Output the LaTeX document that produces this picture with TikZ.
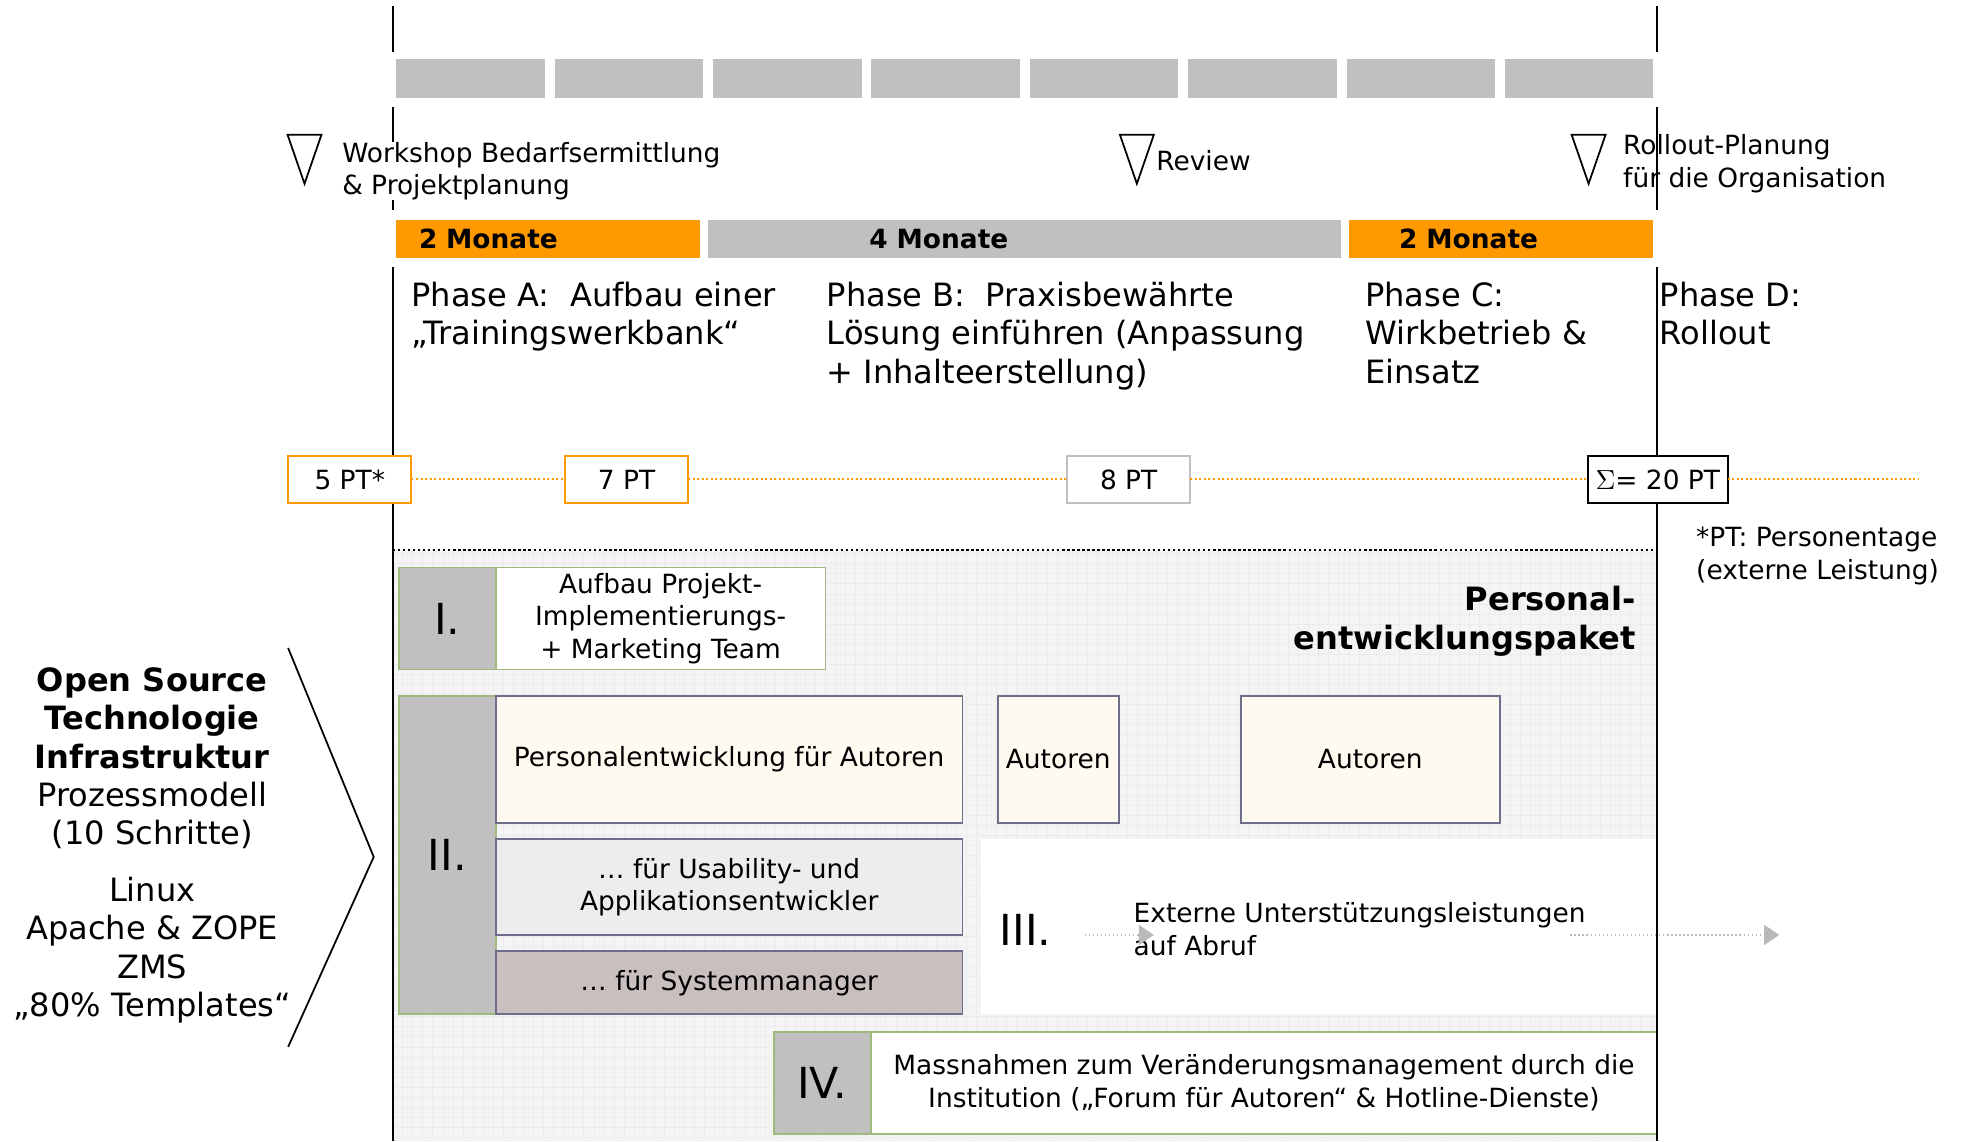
\documentclass[tikz,border=0pt]{standalone}
\usepackage{fontspec}
\setmainfont{DejaVu Sans}
\usetikzlibrary{arrows.meta,positioning}
\definecolor{barorange}{RGB}{255,153,0}
\definecolor{bargray}{RGB}{192,192,192}
\definecolor{panelgray}{RGB}{244,244,244}
\definecolor{gridgray}{RGB}{236,236,236}
\definecolor{cream}{RGB}{254,250,240}
\definecolor{lightgr}{RGB}{237,237,237}
\definecolor{rosegray}{RGB}{201,191,191}
\definecolor{slate}{RGB}{110,110,140}
\definecolor{sage}{RGB}{160,185,125}
\begin{document}
\begin{tikzpicture}
  [x=0.5pt,y=-0.5pt,
   every node/.style={inner sep=0pt,outer sep=0pt,font=\fontsize{10.5pt}{13pt}\selectfont},
   tick/.style={fill=bargray,minimum width=59pt,minimum height=15.5pt},
   monthbar/.style={minimum height=15pt,align=left,font=\fontsize{10.5pt}{13pt}\selectfont\bfseries},
   milestone/.style={draw,line width=0.7pt},
   ptbox/.style={draw,fill=white,line width=0.8pt,minimum width=49pt,minimum height=19pt},
   ptline/.style={barorange,densely dotted,line width=0.8pt},
   phase/.style={anchor=north west,align=left,font=\fontsize{12.75pt}{15.25pt}\selectfont},
   numcell/.style={draw=sage,fill=bargray,line width=0.7pt,minimum width=38.5pt,font=\fontsize{17pt}{20pt}\selectfont},
   textcell/.style={draw=sage,fill=white,line width=0.7pt,align=center,minimum height=40.5pt},
   pecell/.style={draw=slate,line width=0.7pt,minimum width=185.5pt,align=center},
   support/.style={gray!55,densely dotted,line width=0.6pt,-{Triangle[length=6pt,width=8pt]}}]
  \useasboundingbox (0,0) rectangle (1568,907);

  \fill[panelgray] (312,437) rectangle (1317,907);
  \draw[gridgray,line width=0.3pt,step=4pt] (312,437) grid (1317,907);
  \draw[densely dotted,line width=1pt] (312,437) -- (1317,437);

  \foreach \i in {0,...,7}
    \node[tick] (bar\i) at ({374+125.86*\i},62.5) {};

  \node[monthbar,fill=barorange,inner xsep=9pt,text width=102.5pt] (m1) at (435.5,190) {2 Monate};
  \node[monthbar,fill=bargray,inner xsep=64pt,text width=123.5pt] (m2) at (814.5,190) {4 Monate};
  \node[monthbar,fill=barorange,inner xsep=20pt,text width=81pt] (m3) at (1193,190) {2 Monate};

  \node[fill=white,minimum width=268.5pt,minimum height=69.5pt] (z3) at (1048.5,736.5) {};

  \node[numcell,minimum height=40.5pt] (n1) at (355.5,491.5) {I.};
  \node[textcell,anchor=west,minimum width=131pt] (t1) at (n1.east) {Aufbau Projekt-\\Implementierungs-\\+ Marketing Team};

  \node[numcell,minimum height=126.5pt] (n2) at (355.5,679.5) {II.};
  \node[pecell,fill=cream,minimum height=50.5pt,anchor=north west] (pa) at (n2.north east) {Personalentwicklung für Autoren};
  \node[pecell,fill=lightgr,minimum height=38pt,below=6.5pt of pa] (pb) {\dots\ für Usability- und\\Applikationsentwickler};
  \node[pecell,fill=rosegray,minimum height=25pt,below=6.5pt of pb] (pc) {\dots\ für Systemmanager};
  \node[pecell,fill=cream,minimum width=48pt,minimum height=50.5pt,right=14pt of pa] (au1) {Autoren};
  \node[pecell,fill=cream,minimum width=103pt,minimum height=50.5pt,right=48.5pt of au1] (au2) {Autoren};

  \node[font=\fontsize{17pt}{20pt}\selectfont] (n3) at (815,739) {III.};
  \node[anchor=west,align=left] (ext) at (901,738.5) {Externe Unterstützungsleistungen\\auf Abruf};
  \coordinate (a1) at (862,743);
  \coordinate (a2) at (917,743);
  \coordinate (a3) at (1248,743);
  \coordinate (a4) at (1414,743);
  \draw[support] (a1) -- (a2);
  \draw[support] (a3) -- (a4);

  \node[numcell,minimum height=40.5pt] (n4) at (653.5,860.5) {IV.};
  \node[textcell,anchor=west,minimum width=312.5pt] (t4) at (n4.east) {Massnahmen zum Veränderungsmanagement durch die\\Institution („Forum für Autoren“ \& Hotline-Dienste)};

  \node[anchor=north east,align=right,font=\fontsize{12.75pt}{15.25pt}\selectfont\bfseries] (pep) at (1300,466) {Personal-\\entwicklungspaket};

  \foreach \x in {312,1317} {
    \draw[line width=0.8pt] (\x,5) -- (\x,41);
    \draw[line width=0.8pt] (\x,85) -- (\x,167);
    \draw[line width=0.8pt] (\x,212) -- (\x,907);
  }

  \foreach \x in {242,903.5,1262.5}
    \draw[milestone] (\x-13.5,107) -- (\x+13.5,107) -- (\x,146) -- cycle;
  \node[anchor=west,align=left,fill=white] (ws) at (272,136) {Workshop Bedarfsermittlung\\\& Projektplanung};
  \node[anchor=west] (rev) at (919,128) {Review};
  \node[anchor=west,align=left] (roll) at (1290,130) {Rollout-Planung\\für die Organisation};

  \node[phase] (pha) at (327,224) {Phase A:\ \ Aufbau einer\\„Trainingswerkbank“};
  \node[phase] (phb) at (657,224) {Phase B:\ \ Praxisbewährte\\Lösung einführen (Anpassung\\+ Inhalteerstellung)};
  \node[phase] (phc) at (1085,224) {Phase C:\\Wirkbetrieb \&\\Einsatz};
  \node[phase] (phd) at (1319,224) {Phase D:\\Rollout};

  \node[ptbox,draw=barorange] (pt5) at (278,381) {5 PT*};
  \node[ptbox,draw=barorange] (pt7) at (498,381) {7 PT};
  \node[ptbox,draw=bargray] (pt8) at (897,381) {8 PT};
  \node[ptbox,draw=black,minimum width=55.5pt] (pt20) at (1317.5,381) {$\Sigma$= 20 PT};
  \coordinate (ptend) at (1525,381);
  \draw[ptline] (pt5) -- (pt7);
  \draw[ptline] (pt7) -- (pt8);
  \draw[ptline] (pt8) -- (pt20);
  \draw[ptline] (pt20) -- (ptend);
  \node[anchor=north west,align=left] (fn) at (1348,419) {*PT: Personentage\\(externe Leistung)};

  \node[anchor=north,align=center,font=\fontsize{12.75pt}{15.25pt}\selectfont] (tech) at (121,530.5) {\textbf{Open Source}\\\textbf{Technologie}\\\textbf{Infrastruktur}\\Prozessmodell\\(10 Schritte)\\[7.25pt]Linux\\Apache \& ZOPE\\ZMS\\„80\% Templates“};
  \draw[line width=0.7pt] (229,515) -- (297,681) -- (229,832);
\end{tikzpicture}
\end{document}
